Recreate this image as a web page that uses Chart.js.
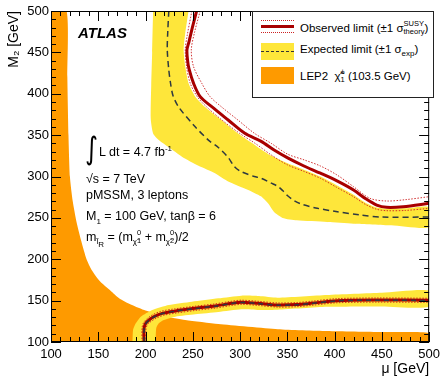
<!DOCTYPE html>
<html>
<head>
<meta charset="utf-8">
<script src="https://cdn.jsdelivr.net/npm/chart.js@4.4.1/dist/chart.umd.min.js"></script>
<style>
  html, body { margin: 0; padding: 0; background: #fff; }
  #wrap { position: relative; width: 445px; height: 380px; font-family: "Liberation Sans", Arial, Helvetica, sans-serif; color: #000; }
  #wrap canvas { position: absolute; left: 0; top: 0; }
  .note { position: absolute; white-space: nowrap; font-size: 12px; line-height: 12px; }
  .atlas { font-size: 15px; line-height: 15px; font-weight: bold; font-style: italic; }
  .stack { display: inline-block; vertical-align: middle; font-size: 7.5px; line-height: 7.5px; text-align: left; position: relative; top: -1px; }
  .stack span { display: block; }
  sub, sup { font-size: 8px; line-height: 0; }
  #legend { position: absolute; left: 252px; top: 11px; width: 180px; height: 85px; border: 1px solid #222; background: #fff; }
  .lg { position: absolute; left: 47px; font-size: 11.5px; line-height: 11.5px; white-space: nowrap; }
  .sym { position: absolute; left: 8px; width: 33px; }
</style>
</head>
<body>
<div id="wrap">
  <canvas id="chart" width="445" height="380"></canvas>

  <div class="note atlas" style="left:78px;top:25px">ATLAS</div>
  <div class="note" style="left:85px;top:133px;font-size:31px;line-height:31px;font-family:'DejaVu Sans',sans-serif;transform:scaleX(0.8);transform-origin:left">∫</div>
  <div class="note" style="left:99px;top:146px;font-size:12.5px">L dt = 4.7 fb<sup>-1</sup></div>
  <div class="note" style="left:86px;top:173px;font-size:12.5px">√s = 7 TeV</div>
  <div class="note" style="left:86px;top:189px;font-size:12.5px">pMSSM, 3 leptons</div>
  <div class="note" style="left:86px;top:210px;font-size:12.5px">M<sub>1</sub> = 100 GeV, tanβ = 6</div>
  <div class="note" style="left:86px;top:230px;font-size:12.5px">m<sub>l̃<sub>R</sub></sub> = (m<sub>χ̃</sub><span class="stack"><span>0</span><span>1</span></span> + m<sub>χ̃</sub><span class="stack"><span>0</span><span>2</span></span>)/2</div>

  <div id="legend">
    <div class="sym" style="top:8px;border-top:1px dotted #c22"></div>
    <div class="sym" style="top:13px;height:3px;background:#a80000"></div>
    <div class="sym" style="top:20px;border-top:1px dotted #c22"></div>
    <div class="lg" style="top:9px">Observed limit (±1 σ<span class="stack"><span>SUSY</span><span>theory</span></span>)</div>

    <div class="sym" style="top:31px;height:17px;background:#fee63a"></div>
    <div class="sym" style="top:39px;border-top:1.5px dashed #333"></div>
    <div class="lg" style="top:32px">Expected limit (±1 σ<sub>exp</sub>)</div>

    <div class="sym" style="top:55px;height:17px;background:#fe9a00"></div>
    <div class="lg" style="top:57px">LEP2 &nbsp;χ̃<span class="stack"><span>±</span><span>1</span></span> (103.5 GeV)</div>
  </div>
</div>

<script>
// Bölge sınırları (μ, M2) — GeV
// LEP2 chargino sınırı
const lepMu = [116.5, 117.3, 118.5, 120, 123, 127, 132, 137.6, 143, 152, 163, 172, 185, 200, 220, 242, 277, 340, 392, 450, 500];
const lepM2 = [500, 420, 350, 300, 270, 245, 222, 200, 187, 173, 162, 153, 145, 138, 131, 126.5, 121.7, 115.5, 113.3, 112, 111];

// Üst bölge: beklenen bant kenarları
const bandHiInnerMu = [208, 207, 206, 205.5, 208, 214, 225, 238.5, 256, 273.5, 287.4, 308, 322, 330, 336, 345, 360, 392, 420, 460, 500];
const bandHiInnerM2 = [500, 450, 410, 370, 352, 344, 335, 324, 313, 304, 294, 284, 276, 267, 257, 250, 247, 245, 243, 241, 238.6];
const bandHiOuterMu = [245.5, 242, 240.3, 242, 245.5, 252.6, 263, 280.5, 298, 311.8, 330, 350.3, 368, 385, 402, 420, 433, 444.5, 455, 475, 500];
const bandHiOuterM2 = [500, 473, 453, 433, 412.6, 396.5, 384, 368, 352, 341, 327, 316, 308, 300, 289.5, 278, 268, 262.5, 261, 261.5, 263];

// Üst bölge: beklenen (kesikli) ve gözlenen sınırlar
const expHiMu = [224.6, 223.5, 223, 224.5, 226.4, 229, 235, 251, 266.5, 277, 287.4, 294, 301, 315, 322, 333, 340, 345, 350, 357, 364, 380, 400, 427, 450, 500];
const expHiM2 = [500, 475, 453, 430, 413, 398, 384, 362, 344, 335, 323, 312, 306, 300, 298, 292, 288, 283, 277, 271, 267, 262, 258, 253.5, 251, 251];
const obsHiMu = [254, 249.5, 246, 243.8, 244.5, 246, 250.8, 257.8, 270, 287.4, 305, 322.3, 336, 350.3, 367, 385, 402, 420, 433, 444.5, 455, 472.5, 500];
const obsHiM2 = [500, 480, 463, 453, 440, 430, 412.6, 396.5, 384.4, 368.3, 352.2, 342.5, 332, 322.5, 313, 304, 295, 283.7, 273, 265.5, 262.8, 263.5, 267.6];
const obsHiUpMu = [257.8, 252, 248.4, 250.8, 259.5, 268.3, 280.5, 298, 315.4, 333, 350.3, 368, 385, 402.6, 420, 437.5, 455, 475, 500];
const obsHiUpM2 = [500, 475, 453, 432.7, 412.6, 396.5, 384, 368, 352, 340, 327, 320, 312.7, 301.8, 287.7, 273.6, 270.4, 272, 275.6];
const obsHiDnMu = [249, 244, 242, 243.5, 247.3, 255, 264.7, 281, 299.7, 316, 333, 350.3, 368, 385, 402, 420, 433, 444.5, 455, 475, 500];
const obsHiDnM2 = [500, 470, 453, 432, 412.6, 396, 384, 368, 352, 340, 326, 314, 306, 297.8, 287, 275.6, 266, 260.4, 258.7, 259, 261.5];

// Alt bölge: bant kenarları
const bandLoOuterMu = [186.2, 186.8, 189.7, 195, 207.1, 224.6, 249, 277, 301.4, 320, 339.8, 392, 450, 500];
const bandLoOuterM2 = [100, 114.5, 122.6, 130.6, 138.7, 144.7, 148.7, 152.8, 156, 155.5, 153.5, 156.8, 159.5, 162];
const bandLoInnerMu = [210.7, 211.3, 214, 219.4, 231.6, 252.6, 277, 301.4, 320, 339.8, 392, 450, 500];
const bandLoInnerM2 = [100, 116.6, 122.6, 126.6, 130.6, 133.4, 136.2, 139.5, 138.7, 139, 142.5, 143, 142.5];

// Alt bölge: sınır çizgileri
const obsLoMu = [198.4, 198.4, 200.2, 203.7, 209, 217.6, 231.6, 252.6, 273.5, 290.9, 301.4, 318.8, 339.8, 360, 374.7, 402.6, 444.5, 500];
const obsLoM2 = [100, 116.6, 122.6, 126.6, 130.6, 134.6, 137.5, 140.7, 143.5, 146.7, 148, 146.7, 144.7, 145.2, 146.7, 149.9, 150.7, 150.4];
const expLoMu = [198.6, 198.6, 200.4, 203.9, 209.2, 217.8, 231.8, 252.8, 273.7, 291, 301.5, 318.8, 339.8, 360, 374.7, 402.6, 444.5, 500];
const expLoM2 = [100, 116.4, 122.4, 126.4, 130.4, 134.4, 137.3, 140.5, 143.3, 146.5, 147.8, 146.5, 144.5, 145, 146.5, 149.7, 150.5, 150.2];
const obsLoUpMu = [196.3, 196.3, 198, 201.5, 207, 216, 230.5, 252, 273, 290.5, 301, 319, 340, 360, 375, 402.6, 444.5, 500];
const obsLoUpM2 = [100, 117, 123.5, 128, 132.6, 137, 140, 143.2, 146, 149.2, 150.5, 149.2, 147.2, 147.7, 149.2, 152.4, 153.2, 152.9];
const obsLoDnMu = [200.5, 200.5, 202.4, 206, 211, 219, 232.5, 253, 274, 291.3, 301.8, 318.8, 339.8, 360, 374.7, 402.6, 444.5, 500];
const obsLoDnM2 = [100, 116, 121.7, 125, 128.6, 132.2, 135, 138.2, 141, 144.2, 145.5, 144.2, 142.2, 142.7, 144.2, 147.4, 148.2, 147.9];

// Eksen aralığı
const axisMin = 100;
const axisMax = 500;
const majorStep = 50;
const minorStep = 10;

const YELLOW = '#fee63a';
const ORANGE = '#fe9a00';
const RED = '#a80000';
const DOT = 'rgba(205, 30, 30, 0.9)';
const DASH = '#2e3940';

function pts(mu, m2) {
    return mu.map((v, i) => ({ x: v, y: m2[i] }));
}

function line(mu, m2, color, width, dash) {
    return {
        data: pts(mu, m2),
        showLine: true,
        borderColor: color,
        borderWidth: width,
        borderDash: dash || [],
        pointRadius: 0,
        fill: false,
        tension: 0.3
    };
}

function area(points, color) {
    return {
        data: points,
        showLine: true,
        borderColor: 'rgba(0,0,0,0)',
        borderWidth: 1,
        backgroundColor: color,
        pointRadius: 0,
        fill: 'shape',
        tension: 0.2
    };
}

// Kapalı çokgenler: iç kenar + ters çevrilmiş dış kenar
const bandHiPoly = pts(bandHiInnerMu, bandHiInnerM2).concat(pts(bandHiOuterMu, bandHiOuterM2).reverse());
const bandLoPoly = pts(bandLoOuterMu, bandLoOuterM2).concat(pts(bandLoInnerMu, bandLoInnerM2).reverse());
const lepPoly = [{ x: axisMin, y: axisMax }].concat(pts(lepMu, lepM2), [{ x: axisMax, y: axisMin }, { x: axisMin, y: axisMin }]);

// İçe bakan çentikler ve çerçeve
const frameTicks = {
    id: 'frameTicks',
    afterDatasetsDraw(chart) {
        const { ctx, chartArea: a, scales: { x, y } } = chart;
        ctx.save();
        ctx.strokeStyle = '#000';
        ctx.lineWidth = 1;
        ctx.beginPath();
        for (let v = axisMin; v <= axisMax; v += minorStep) {
            const len = v % majorStep === 0 ? 10 : 5;
            const px = Math.round(x.getPixelForValue(v)) + 0.5;
            ctx.moveTo(px, a.bottom); ctx.lineTo(px, a.bottom - len);
            ctx.moveTo(px, a.top); ctx.lineTo(px, a.top + len);
            const py = Math.round(y.getPixelForValue(v)) + 0.5;
            ctx.moveTo(a.left, py); ctx.lineTo(a.left + len, py);
            ctx.moveTo(a.right, py); ctx.lineTo(a.right - len, py);
        }
        ctx.stroke();
        ctx.strokeRect(a.left + 0.5, a.top + 0.5, a.right - a.left - 1, a.bottom - a.top - 1);
        ctx.restore();
    }
};

Chart.defaults.font.family = '"Liberation Sans", Arial, Helvetica, sans-serif';
Chart.defaults.color = '#000';

new Chart(document.getElementById('chart').getContext('2d'), {
    type: 'scatter',
    data: {
        datasets: [
            line(expLoMu, expLoM2, DASH, 1.5, [5, 4]),
            line(obsLoMu, obsLoM2, RED, 3),
            line(obsLoUpMu, obsLoUpM2, DOT, 1, [1.5, 1.5]),
            line(obsLoDnMu, obsLoDnM2, DOT, 1, [1.5, 1.5]),
            line(obsHiMu, obsHiM2, RED, 3),
            line(obsHiUpMu, obsHiUpM2, DOT, 1, [1.5, 1.5]),
            line(obsHiDnMu, obsHiDnM2, DOT, 1, [1.5, 1.5]),
            line(expHiMu, expHiM2, DASH, 1.5, [6, 4]),
            area(bandLoPoly, YELLOW),
            area(bandHiPoly, YELLOW),
            area(lepPoly, ORANGE)
        ]
    },
    options: {
        responsive: false,
        animation: false,
        devicePixelRatio: 1,
        layout: { padding: { top: 11, right: 12, left: 0, bottom: 0 } },
        plugins: {
            legend: { display: false },
            tooltip: { enabled: false }
        },
        scales: {
            x: {
                type: 'linear',
                min: axisMin,
                max: axisMax,
                grid: { display: false, drawTicks: false },
                border: { display: false },
                ticks: { stepSize: majorStep, padding: 5, font: { size: 13 } },
                title: { display: true, text: 'μ [GeV]', align: 'end', font: { size: 14 }, padding: { top: 0, bottom: 2 } },
                afterFit: s => { s.height = 38; }
            },
            y: {
                type: 'linear',
                min: axisMin,
                max: axisMax,
                grid: { display: false, drawTicks: false },
                border: { display: false },
                ticks: { stepSize: majorStep, padding: 2, font: { size: 13 } },
                title: { display: true, text: 'M₂ [GeV]', align: 'end', font: { size: 14 }, padding: { top: 6, bottom: 0 } },
                afterFit: s => { s.width = 51; }
            }
        }
    },
    plugins: [frameTicks]
});
</script>
</body>
</html>
